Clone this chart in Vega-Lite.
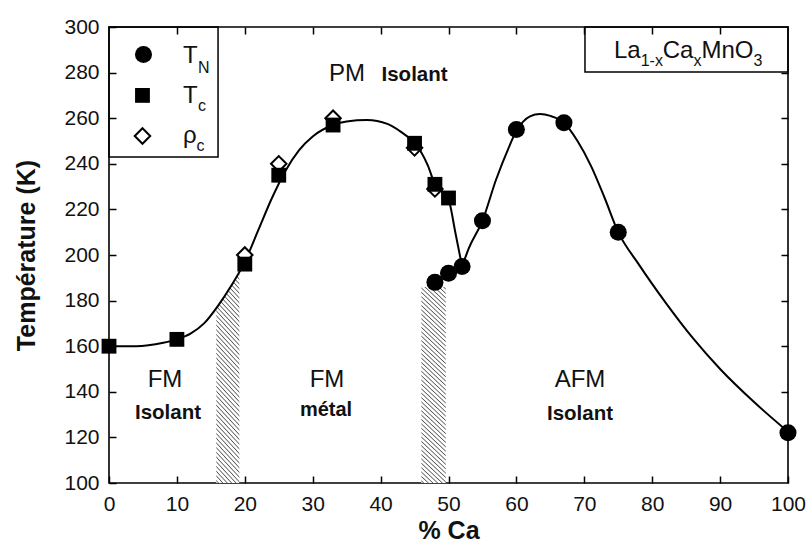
{
  "$schema": "https://vega.github.io/schema/vega-lite/v6.json",
  "width": 679,
  "height": 456,
  "autosize": {"type": "none"},
  "padding": {"left": 109, "top": 27, "right": 21, "bottom": 65},
  "background": "#ffffff",
  "config": {
    "view": {"stroke": "#000", "strokeWidth": 1.6},
    "font": "Liberation Sans",
    "axis": {
      "domain": false,
      "grid": false,
      "ticks": true,
      "tickColor": "#000",
      "tickWidth": 1.5,
      "tickSize": 7,
      "offset": -7,
      "labelFont": "Liberation Sans",
      "labelFontSize": 21,
      "labelColor": "#111",
      "titleFont": "Liberation Sans",
      "titleFontSize": 25,
      "titleFontWeight": "bold",
      "titleColor": "#111"
    }
  },
  "datasets": {
    "curve": [
      {"seg": "a", "x": 0, "y": 160}, {"seg": "a", "x": 4, "y": 160}, {"seg": "a", "x": 8, "y": 161.5},
      {"seg": "a", "x": 10, "y": 163}, {"seg": "a", "x": 12, "y": 165.5}, {"seg": "a", "x": 14, "y": 170},
      {"seg": "a", "x": 16, "y": 177.5}, {"seg": "a", "x": 18, "y": 186.5}, {"seg": "a", "x": 20, "y": 197},
      {"seg": "a", "x": 22, "y": 211}, {"seg": "a", "x": 24, "y": 225}, {"seg": "a", "x": 26, "y": 237},
      {"seg": "a", "x": 28, "y": 246}, {"seg": "a", "x": 30, "y": 252}, {"seg": "a", "x": 33, "y": 257},
      {"seg": "a", "x": 35, "y": 258.6}, {"seg": "a", "x": 38, "y": 259.2}, {"seg": "a", "x": 41, "y": 257.5},
      {"seg": "a", "x": 43, "y": 254}, {"seg": "a", "x": 45, "y": 249}, {"seg": "a", "x": 46, "y": 245},
      {"seg": "a", "x": 47, "y": 239}, {"seg": "a", "x": 48, "y": 231}, {"seg": "a", "x": 49, "y": 228},
      {"seg": "a", "x": 50, "y": 224.5}, {"seg": "a", "x": 51, "y": 210}, {"seg": "a", "x": 52, "y": 195},
      {"seg": "b", "x": 52, "y": 195}, {"seg": "b", "x": 53, "y": 203}, {"seg": "b", "x": 55, "y": 215},
      {"seg": "b", "x": 57, "y": 233}, {"seg": "b", "x": 59, "y": 248}, {"seg": "b", "x": 60, "y": 254.5},
      {"seg": "b", "x": 61, "y": 258.5}, {"seg": "b", "x": 62, "y": 260.8}, {"seg": "b", "x": 63.5, "y": 261.8},
      {"seg": "b", "x": 65, "y": 261}, {"seg": "b", "x": 67, "y": 258}, {"seg": "b", "x": 69, "y": 250},
      {"seg": "b", "x": 71, "y": 239}, {"seg": "b", "x": 73, "y": 225}, {"seg": "b", "x": 75, "y": 210},
      {"seg": "b", "x": 78, "y": 196}, {"seg": "b", "x": 82, "y": 179}, {"seg": "b", "x": 86, "y": 163.5},
      {"seg": "b", "x": 90, "y": 150}, {"seg": "b", "x": 95, "y": 135.5}, {"seg": "b", "x": 100, "y": 122.5}
    ],
    "hatch": [
      {"h": "a", "x": 15.8, "y": 177}, {"h": "a", "x": 16.5, "y": 180}, {"h": "a", "x": 17.5, "y": 184},
      {"h": "a", "x": 18.5, "y": 188.5}, {"h": "a", "x": 19.2, "y": 192.5},
      {"h": "b", "x": 46, "y": 186}, {"h": "b", "x": 49.6, "y": 186}
    ],
    "pts": [
      {"s": "rho", "x": 20, "y": 200}, {"s": "rho", "x": 25, "y": 240}, {"s": "rho", "x": 33, "y": 260},
      {"s": "rho", "x": 45, "y": 247}, {"s": "rho", "x": 48, "y": 229},
      {"s": "Tc", "x": 0, "y": 160}, {"s": "Tc", "x": 10, "y": 163}, {"s": "Tc", "x": 20, "y": 196},
      {"s": "Tc", "x": 25, "y": 235}, {"s": "Tc", "x": 33, "y": 257}, {"s": "Tc", "x": 45, "y": 249},
      {"s": "Tc", "x": 48, "y": 231}, {"s": "Tc", "x": 50, "y": 225},
      {"s": "TN", "x": 48, "y": 188}, {"s": "TN", "x": 50, "y": 192}, {"s": "TN", "x": 52, "y": 195},
      {"s": "TN", "x": 55, "y": 215}, {"s": "TN", "x": 60, "y": 255}, {"s": "TN", "x": 67, "y": 258},
      {"s": "TN", "x": 75, "y": 210}, {"s": "TN", "x": 100, "y": 122}
    ],
    "one": [{}]
  },
  "layer": [
    {
      "layer": [
        {
          "data": {"name": "hatch"},
          "mark": {
            "type": "area",
            "fill": {
              "gradient": "linear", "x1": 0, "y1": 1, "x2": 0.1297, "y2": -0.1024,
              "stops": [
                {"offset": 0.005, "color": "#fff"}, {"offset": 0.010, "color": "#555"}, {"offset": 0.015, "color": "#fff"},
                {"offset": 0.025, "color": "#fff"}, {"offset": 0.030, "color": "#555"}, {"offset": 0.035, "color": "#fff"},
                {"offset": 0.045, "color": "#fff"}, {"offset": 0.050, "color": "#555"}, {"offset": 0.055, "color": "#fff"},
                {"offset": 0.065, "color": "#fff"}, {"offset": 0.070, "color": "#555"}, {"offset": 0.075, "color": "#fff"},
                {"offset": 0.085, "color": "#fff"}, {"offset": 0.090, "color": "#555"}, {"offset": 0.095, "color": "#fff"},
                {"offset": 0.105, "color": "#fff"}, {"offset": 0.110, "color": "#555"}, {"offset": 0.115, "color": "#fff"},
                {"offset": 0.125, "color": "#fff"}, {"offset": 0.130, "color": "#555"}, {"offset": 0.135, "color": "#fff"},
                {"offset": 0.145, "color": "#fff"}, {"offset": 0.150, "color": "#555"}, {"offset": 0.155, "color": "#fff"},
                {"offset": 0.165, "color": "#fff"}, {"offset": 0.170, "color": "#555"}, {"offset": 0.175, "color": "#fff"},
                {"offset": 0.185, "color": "#fff"}, {"offset": 0.190, "color": "#555"}, {"offset": 0.195, "color": "#fff"},
                {"offset": 0.205, "color": "#fff"}, {"offset": 0.210, "color": "#555"}, {"offset": 0.215, "color": "#fff"},
                {"offset": 0.225, "color": "#fff"}, {"offset": 0.230, "color": "#555"}, {"offset": 0.235, "color": "#fff"},
                {"offset": 0.245, "color": "#fff"}, {"offset": 0.250, "color": "#555"}, {"offset": 0.255, "color": "#fff"},
                {"offset": 0.265, "color": "#fff"}, {"offset": 0.270, "color": "#555"}, {"offset": 0.275, "color": "#fff"},
                {"offset": 0.285, "color": "#fff"}, {"offset": 0.290, "color": "#555"}, {"offset": 0.295, "color": "#fff"},
                {"offset": 0.305, "color": "#fff"}, {"offset": 0.310, "color": "#555"}, {"offset": 0.315, "color": "#fff"},
                {"offset": 0.325, "color": "#fff"}, {"offset": 0.330, "color": "#555"}, {"offset": 0.335, "color": "#fff"},
                {"offset": 0.345, "color": "#fff"}, {"offset": 0.350, "color": "#555"}, {"offset": 0.355, "color": "#fff"},
                {"offset": 0.365, "color": "#fff"}, {"offset": 0.370, "color": "#555"}, {"offset": 0.375, "color": "#fff"},
                {"offset": 0.385, "color": "#fff"}, {"offset": 0.390, "color": "#555"}, {"offset": 0.395, "color": "#fff"},
                {"offset": 0.405, "color": "#fff"}, {"offset": 0.410, "color": "#555"}, {"offset": 0.415, "color": "#fff"},
                {"offset": 0.425, "color": "#fff"}, {"offset": 0.430, "color": "#555"}, {"offset": 0.435, "color": "#fff"},
                {"offset": 0.445, "color": "#fff"}, {"offset": 0.450, "color": "#555"}, {"offset": 0.455, "color": "#fff"},
                {"offset": 0.465, "color": "#fff"}, {"offset": 0.470, "color": "#555"}, {"offset": 0.475, "color": "#fff"},
                {"offset": 0.485, "color": "#fff"}, {"offset": 0.490, "color": "#555"}, {"offset": 0.495, "color": "#fff"},
                {"offset": 0.505, "color": "#fff"}, {"offset": 0.510, "color": "#555"}, {"offset": 0.515, "color": "#fff"},
                {"offset": 0.525, "color": "#fff"}, {"offset": 0.530, "color": "#555"}, {"offset": 0.535, "color": "#fff"},
                {"offset": 0.545, "color": "#fff"}, {"offset": 0.550, "color": "#555"}, {"offset": 0.555, "color": "#fff"},
                {"offset": 0.565, "color": "#fff"}, {"offset": 0.570, "color": "#555"}, {"offset": 0.575, "color": "#fff"},
                {"offset": 0.585, "color": "#fff"}, {"offset": 0.590, "color": "#555"}, {"offset": 0.595, "color": "#fff"},
                {"offset": 0.605, "color": "#fff"}, {"offset": 0.610, "color": "#555"}, {"offset": 0.615, "color": "#fff"},
                {"offset": 0.625, "color": "#fff"}, {"offset": 0.630, "color": "#555"}, {"offset": 0.635, "color": "#fff"},
                {"offset": 0.645, "color": "#fff"}, {"offset": 0.650, "color": "#555"}, {"offset": 0.655, "color": "#fff"},
                {"offset": 0.665, "color": "#fff"}, {"offset": 0.670, "color": "#555"}, {"offset": 0.675, "color": "#fff"},
                {"offset": 0.685, "color": "#fff"}, {"offset": 0.690, "color": "#555"}, {"offset": 0.695, "color": "#fff"},
                {"offset": 0.705, "color": "#fff"}, {"offset": 0.710, "color": "#555"}, {"offset": 0.715, "color": "#fff"},
                {"offset": 0.725, "color": "#fff"}, {"offset": 0.730, "color": "#555"}, {"offset": 0.735, "color": "#fff"},
                {"offset": 0.745, "color": "#fff"}, {"offset": 0.750, "color": "#555"}, {"offset": 0.755, "color": "#fff"},
                {"offset": 0.765, "color": "#fff"}, {"offset": 0.770, "color": "#555"}, {"offset": 0.775, "color": "#fff"},
                {"offset": 0.785, "color": "#fff"}, {"offset": 0.790, "color": "#555"}, {"offset": 0.795, "color": "#fff"},
                {"offset": 0.805, "color": "#fff"}, {"offset": 0.810, "color": "#555"}, {"offset": 0.815, "color": "#fff"},
                {"offset": 0.825, "color": "#fff"}, {"offset": 0.830, "color": "#555"}, {"offset": 0.835, "color": "#fff"},
                {"offset": 0.845, "color": "#fff"}, {"offset": 0.850, "color": "#555"}, {"offset": 0.855, "color": "#fff"},
                {"offset": 0.865, "color": "#fff"}, {"offset": 0.870, "color": "#555"}, {"offset": 0.875, "color": "#fff"},
                {"offset": 0.885, "color": "#fff"}, {"offset": 0.890, "color": "#555"}, {"offset": 0.895, "color": "#fff"},
                {"offset": 0.905, "color": "#fff"}, {"offset": 0.910, "color": "#555"}, {"offset": 0.915, "color": "#fff"},
                {"offset": 0.925, "color": "#fff"}, {"offset": 0.930, "color": "#555"}, {"offset": 0.935, "color": "#fff"},
                {"offset": 0.945, "color": "#fff"}, {"offset": 0.950, "color": "#555"}, {"offset": 0.955, "color": "#fff"},
                {"offset": 0.965, "color": "#fff"}, {"offset": 0.970, "color": "#555"}, {"offset": 0.975, "color": "#fff"},
                {"offset": 0.985, "color": "#fff"}, {"offset": 0.990, "color": "#555"}, {"offset": 0.995, "color": "#fff"}
              ]
            }
          },
          "encoding": {
            "x": {"field": "x", "type": "quantitative"},
            "y": {"field": "y", "type": "quantitative"},
            "y2": {"datum": 100},
            "detail": {"field": "h"}
          }
        },
        {
          "data": {"name": "curve"},
          "mark": {"type": "line", "color": "#000", "strokeWidth": 2, "interpolate": "monotone"},
          "encoding": {
            "x": {
              "field": "x", "type": "quantitative",
              "scale": {"domain": [0, 100], "nice": false, "zero": false},
              "axis": {"title": "% Ca", "values": [0, 10, 20, 30, 40, 50, 60, 70, 80, 90, 100], "labelPadding": 10, "titlePadding": 4, "labelFlush": false}
            },
            "y": {
              "field": "y", "type": "quantitative",
              "scale": {"domain": [100, 300], "nice": false, "zero": false},
              "axis": {"title": "Température (K)", "values": [100, 120, 140, 160, 180, 200, 220, 240, 260, 280, 300], "labelPadding": 10, "titlePadding": 24, "labelFlush": false}
            },
            "detail": {"field": "seg"}
          }
        },
        {
          "data": {"name": "pts"},
          "transform": [{"filter": "datum.s === 'rho'"}],
          "mark": {"type": "point", "shape": "diamond", "filled": true, "fill": "#fff", "stroke": "#000", "strokeWidth": 2, "size": 240, "opacity": 1},
          "encoding": {"x": {"field": "x", "type": "quantitative"}, "y": {"field": "y", "type": "quantitative"}}
        },
        {
          "data": {"name": "pts"},
          "transform": [{"filter": "datum.s === 'Tc'"}],
          "mark": {"type": "square", "color": "#000", "size": 220, "opacity": 1},
          "encoding": {"x": {"field": "x", "type": "quantitative"}, "y": {"field": "y", "type": "quantitative"}}
        },
        {
          "data": {"name": "pts"},
          "transform": [{"filter": "datum.s === 'TN'"}],
          "mark": {"type": "circle", "color": "#000", "size": 290, "opacity": 1},
          "encoding": {"x": {"field": "x", "type": "quantitative"}, "y": {"field": "y", "type": "quantitative"}}
        },
        {
          "data": {"name": "one"},
          "mark": {"type": "rect", "filled": false, "stroke": "#000", "strokeWidth": 1.5},
          "encoding": {"x": {"datum": 0}, "x2": {"datum": 16.06}, "y": {"datum": 300}, "y2": {"datum": 243}}
        },
        {
          "data": {"name": "one"},
          "mark": {"type": "rect", "filled": false, "stroke": "#000", "strokeWidth": 1.5},
          "encoding": {"x": {"datum": 70.1}, "x2": {"datum": 100}, "y": {"datum": 300}, "y2": {"datum": 280.3}}
        },
        {
          "data": {"name": "one"},
          "mark": {"type": "circle", "color": "#000", "size": 290, "opacity": 1},
          "encoding": {"x": {"datum": 5.08}, "y": {"datum": 287.9}}
        },
        {
          "data": {"name": "one"},
          "mark": {"type": "square", "color": "#000", "size": 220, "opacity": 1},
          "encoding": {"x": {"datum": 4.93}, "y": {"datum": 270}}
        },
        {
          "data": {"name": "one"},
          "mark": {"type": "point", "shape": "diamond", "filled": true, "fill": "#fff", "stroke": "#000", "strokeWidth": 2, "size": 240, "opacity": 1},
          "encoding": {"x": {"datum": 4.93}, "y": {"datum": 252.2}}
        },
        {
          "data": {"name": "one"},
          "mark": {"type": "text", "text": "T", "font": "Liberation Sans", "fontSize": 24, "color": "#111", "align": "left", "baseline": "alphabetic"},
          "encoding": {"x": {"datum": 10.9}, "y": {"datum": 284.2}}
        },
        {
          "data": {"name": "one"},
          "mark": {"type": "text", "text": "N", "font": "Liberation Sans", "fontSize": 16, "color": "#111", "align": "left", "baseline": "alphabetic"},
          "encoding": {"x": {"datum": 13.1}, "y": {"datum": 279.8}}
        },
        {
          "data": {"name": "one"},
          "mark": {"type": "text", "text": "T", "font": "Liberation Sans", "fontSize": 24, "color": "#111", "align": "left", "baseline": "alphabetic"},
          "encoding": {"x": {"datum": 10.9}, "y": {"datum": 266.7}}
        },
        {
          "data": {"name": "one"},
          "mark": {"type": "text", "text": "c", "font": "Liberation Sans", "fontSize": 16, "color": "#111", "align": "left", "baseline": "alphabetic"},
          "encoding": {"x": {"datum": 13.1}, "y": {"datum": 263.2}}
        },
        {
          "data": {"name": "one"},
          "mark": {"type": "text", "text": "ρ", "font": "Liberation Sans", "fontSize": 24, "color": "#111", "align": "left", "baseline": "alphabetic"},
          "encoding": {"x": {"datum": 10.9}, "y": {"datum": 249.1}}
        },
        {
          "data": {"name": "one"},
          "mark": {"type": "text", "text": "c", "font": "Liberation Sans", "fontSize": 16, "color": "#111", "align": "left", "baseline": "alphabetic"},
          "encoding": {"x": {"datum": 12.9}, "y": {"datum": 245.6}}
        },
        {
          "data": {"name": "one"},
          "mark": {"type": "text", "text": "La", "font": "Liberation Sans", "fontSize": 24, "color": "#111", "align": "left", "baseline": "alphabetic"},
          "encoding": {"x": {"datum": 74.37}, "y": {"datum": 286.4}}
        },
        {
          "data": {"name": "one"},
          "mark": {"type": "text", "text": "1-x", "font": "Liberation Sans", "fontSize": 16, "color": "#111", "align": "left", "baseline": "alphabetic"},
          "encoding": {"x": {"datum": 78.3}, "y": {"datum": 282.9}}
        },
        {
          "data": {"name": "one"},
          "mark": {"type": "text", "text": "Ca", "font": "Liberation Sans", "fontSize": 24, "color": "#111", "align": "left", "baseline": "alphabetic"},
          "encoding": {"x": {"datum": 81.56}, "y": {"datum": 286.4}}
        },
        {
          "data": {"name": "one"},
          "mark": {"type": "text", "text": "x", "font": "Liberation Sans", "fontSize": 16, "color": "#111", "align": "left", "baseline": "alphabetic"},
          "encoding": {"x": {"datum": 86.08}, "y": {"datum": 282.9}}
        },
        {
          "data": {"name": "one"},
          "mark": {"type": "text", "text": "MnO", "font": "Liberation Sans", "fontSize": 24, "color": "#111", "align": "left", "baseline": "alphabetic"},
          "encoding": {"x": {"datum": 87.26}, "y": {"datum": 286.4}}
        },
        {
          "data": {"name": "one"},
          "mark": {"type": "text", "text": "3", "font": "Liberation Sans", "fontSize": 16, "color": "#111", "align": "left", "baseline": "alphabetic"},
          "encoding": {"x": {"datum": 94.92}, "y": {"datum": 282.9}}
        },
        {
          "data": {"name": "one"},
          "mark": {"type": "text", "text": "PM", "font": "Liberation Sans", "fontSize": 24, "color": "#111", "align": "center", "baseline": "middle"},
          "encoding": {"x": {"datum": 35.05}, "y": {"datum": 279.4}}
        },
        {
          "data": {"name": "one"},
          "mark": {"type": "text", "text": "Isolant", "font": "Liberation Sans", "fontSize": 20.5, "fontWeight": "bold", "color": "#111", "align": "center", "baseline": "middle"},
          "encoding": {"x": {"datum": 45.0}, "y": {"datum": 278.9}}
        },
        {
          "data": {"name": "one"},
          "mark": {"type": "text", "text": "FM", "font": "Liberation Sans", "fontSize": 24, "color": "#111", "align": "center", "baseline": "middle"},
          "encoding": {"x": {"datum": 8.25}, "y": {"datum": 145.2}}
        },
        {
          "data": {"name": "one"},
          "mark": {"type": "text", "text": "Isolant", "font": "Liberation Sans", "fontSize": 20.5, "fontWeight": "bold", "color": "#111", "align": "center", "baseline": "middle"},
          "encoding": {"x": {"datum": 8.69}, "y": {"datum": 130.7}}
        },
        {
          "data": {"name": "one"},
          "mark": {"type": "text", "text": "FM", "font": "Liberation Sans", "fontSize": 24, "color": "#111", "align": "center", "baseline": "middle"},
          "encoding": {"x": {"datum": 32.1}, "y": {"datum": 145.2}}
        },
        {
          "data": {"name": "one"},
          "mark": {"type": "text", "text": "métal", "font": "Liberation Sans", "fontSize": 20, "fontWeight": "bold", "color": "#111", "align": "center", "baseline": "middle"},
          "encoding": {"x": {"datum": 31.96}, "y": {"datum": 132}}
        },
        {
          "data": {"name": "one"},
          "mark": {"type": "text", "text": "AFM", "font": "Liberation Sans", "fontSize": 24, "color": "#111", "align": "center", "baseline": "middle"},
          "encoding": {"x": {"datum": 69.37}, "y": {"datum": 145.2}}
        },
        {
          "data": {"name": "one"},
          "mark": {"type": "text", "text": "Isolant", "font": "Liberation Sans", "fontSize": 20.5, "fontWeight": "bold", "color": "#111", "align": "center", "baseline": "middle"},
          "encoding": {"x": {"datum": 69.37}, "y": {"datum": 130.3}}
        }
      ]
    },
    {
      "data": {"name": "pts"},
      "mark": {"type": "point", "opacity": 0},
      "encoding": {
        "x": {
          "field": "x", "type": "quantitative",
          "scale": {"domain": [0, 100], "nice": false, "zero": false},
          "axis": {"orient": "top", "title": null, "labels": false, "values": [10, 20, 30, 40, 50, 60, 70, 80, 90]}
        },
        "y": {
          "field": "y", "type": "quantitative",
          "scale": {"domain": [100, 300], "nice": false, "zero": false},
          "axis": {"orient": "right", "title": null, "labels": false, "values": [120, 140, 160, 180, 200, 220, 240, 260, 280]}
        }
      }
    }
  ],
  "resolve": {"axis": {"x": "independent", "y": "independent"}}
}
